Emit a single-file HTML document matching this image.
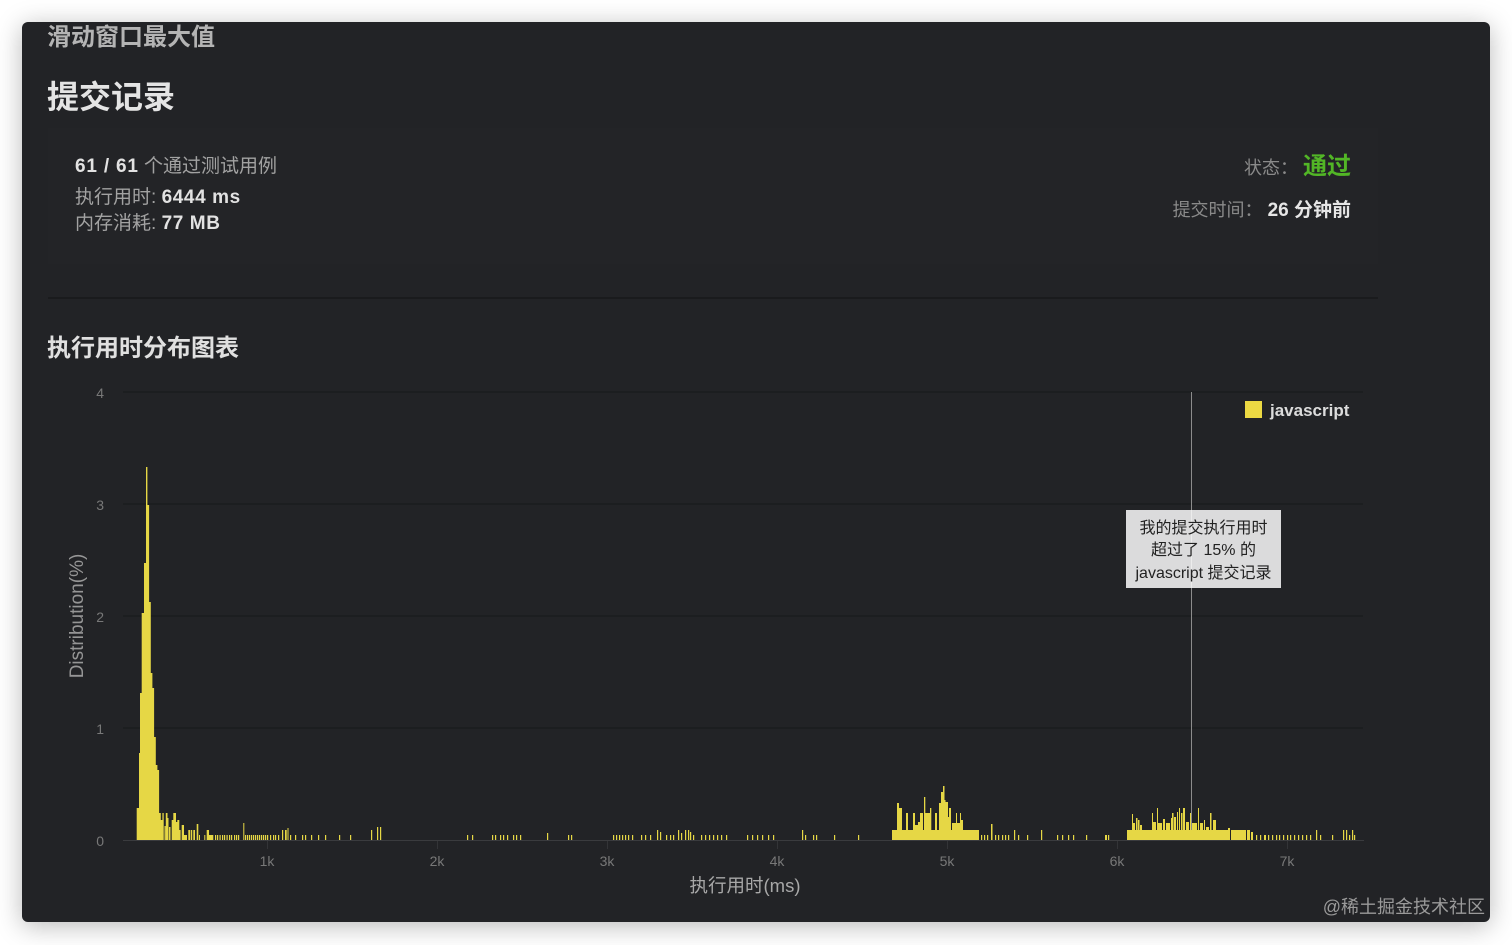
<!DOCTYPE html>
<html>
<head>
<meta charset="utf-8">
<style>
  html,body{margin:0;padding:0;}
  body{width:1512px;height:945px;background:#ffffff;position:relative;overflow:hidden;
       font-family:"Liberation Sans","Noto Sans CJK SC",sans-serif;}
  .card{position:absolute;left:22px;top:22px;width:1468px;height:900px;background:#222326;
        border-radius:6px;box-shadow:0 4px 26px rgba(0,0,0,0.28);}
  .panel{position:absolute;left:48px;top:128px;width:1330px;height:136px;background:#232427;}
  .sep{position:absolute;left:48px;top:297px;width:1330px;height:2px;background:#1a1b1d;}
  .t{position:absolute;white-space:nowrap;}
  .b{font-weight:700;}
</style>
</head>
<body>
<div class="card"></div>
<div class="panel"></div>
<div class="sep"></div>

<div class="t b" style="left:47px;top:24px;font-size:24px;line-height:28px;color:#b4b4b4;">滑动窗口最大值</div>
<div class="t b" style="left:47px;top:79px;font-size:32px;line-height:36px;color:#e4e4e4;">提交记录</div>

<div class="t" style="left:75px;top:156px;font-size:19px;line-height:22px;color:#a2a2a2;"><span class="b" style="color:#e2e2e2;font-size:19px;letter-spacing:0.8px;">61 / 61</span> 个通过测试用例</div>
<div class="t" style="left:75px;top:187px;font-size:19px;line-height:22px;color:#a2a2a2;">执行用时: <span class="b" style="color:#e2e2e2;font-size:19px;letter-spacing:0.6px;">6444 ms</span></div>
<div class="t" style="left:75px;top:213px;font-size:19px;line-height:22px;color:#a2a2a2;">内存消耗: <span class="b" style="color:#e2e2e2;font-size:19px;letter-spacing:0.6px;">77 MB</span></div>

<div class="t" style="right:161px;top:153px;font-size:18px;line-height:28px;color:#8a8a8a;">状态：&nbsp;<span class="b" style="color:#52b626;font-size:24px;">通过</span></div>
<div class="t" style="right:161px;top:198px;font-size:18px;line-height:24px;color:#8a8a8a;">提交时间：&nbsp;<span class="b" style="color:#e6e6e6;font-size:19px;">26 分钟前</span></div>

<div class="t b" style="left:47px;top:335px;font-size:24px;line-height:28px;color:#e0e0e0;">执行用时分布图表</div>

<svg width="1512" height="945" viewBox="0 0 1512 945" style="position:absolute;left:0;top:0;" xmlns="http://www.w3.org/2000/svg">
  <!-- grid -->
  <g stroke="#1a1b1d" stroke-width="1.2">
    <line x1="123" y1="392" x2="1363" y2="392"/>
    <line x1="123" y1="504" x2="1363" y2="504"/>
    <line x1="123" y1="616" x2="1363" y2="616"/>
    <line x1="123" y1="728" x2="1363" y2="728"/>
  </g>
  <line x1="123" y1="840.5" x2="1364" y2="840.5" stroke="#3a3b3e" stroke-width="1"/>
  <g stroke="#333437" stroke-width="1">
    <line x1="267.5" y1="841" x2="267.5" y2="849"/>
    <line x1="437.5" y1="841" x2="437.5" y2="849"/>
    <line x1="607.5" y1="841" x2="607.5" y2="849"/>
    <line x1="777.5" y1="841" x2="777.5" y2="849"/>
    <line x1="947.5" y1="841" x2="947.5" y2="849"/>
    <line x1="1117.5" y1="841" x2="1117.5" y2="849"/>
    <line x1="1287.5" y1="841" x2="1287.5" y2="849"/>
  </g>

  <!-- y ticks -->
  <g font-family="Liberation Sans, sans-serif" font-size="14" fill="#787878" text-anchor="end">
    <text x="104" y="398">4</text>
    <text x="104" y="510">3</text>
    <text x="104" y="622">2</text>
    <text x="104" y="734">1</text>
    <text x="104" y="846">0</text>
  </g>
  <!-- x ticks -->
  <g font-family="Liberation Sans, sans-serif" font-size="14" fill="#787878" text-anchor="middle">
    <text x="267" y="866">1k</text>
    <text x="437" y="866">2k</text>
    <text x="607" y="866">3k</text>
    <text x="777" y="866">4k</text>
    <text x="947" y="866">5k</text>
    <text x="1117" y="866">6k</text>
    <text x="1287" y="866">7k</text>
  </g>
  <text x="745" y="892" font-family="Liberation Sans, Noto Sans CJK SC, sans-serif" font-size="18.5" fill="#a8a8a8" text-anchor="middle">执行用时(ms)</text>
  <text transform="translate(83,616) rotate(-90)" font-family="Liberation Sans, sans-serif" font-size="19" fill="#969696" text-anchor="middle">Distribution(%)</text>

  <!-- crosshair -->
  <line x1="1191.5" y1="392" x2="1191.5" y2="840" stroke="#8c8c8c" stroke-width="1"/>

  <!-- bars -->
  <path fill="#e6d745" d="
M136.7 840v-32h2.3v32z M139 840v-87h1.1v87z M140 840v-147h1.8v147z M141.7 840v-227h2.4v227z
M144 840v-277h2.1v277z M146 840v-373h1.4v373z M147.3 840v-335h1.8v335z M149 840v-238h1.8v238z
M150.7 840v-167h1.7v167z M152.3 840v-152h1.8v152z M154 840v-103h1.8v103z M155.7 840v-75h1.7v75z
M157.3 840v-70h1.8v70z M159 840v-27h1.8v27z
M160.7 840v-20h1.7v20z M162.4 840v-27h1.3v27z M164.5 840v-14h1.2v14z M165.8 840v-27h1.7v27z
M167.5 840v-22h1v22z M169 840v-13h1.5v13z M171.7 840v-20h1.6v20z M173.3 840v-27h2.7v27z
M176 840v-18h1.3v18z M177.3 840v-20h2v20z M179.3 840v-10h1.3v10z M181.7 840v-15h2.3v15z
M184 840v-5h3v5z M188.3 840v-10h1.7v10z M190.7 840v-10h1.5v10z M193.3 840v-10h1.7v10z
M196.7 840v-16h1.6v16z M199 840v-5h1v5z M204.3 840v-5h1v5z M206.7 840v-10h2.3v10z M209 840v-5h4.3v5z
M215 840v-5h1.2v5z M217 840v-5h1.2v5z M219.5 840v-5h1.2v5z M222 840v-5h1.2v5z M224 840v-5h1.2v5z
M226.5 840v-5h1.2v5z M229 840v-5h1.2v5z M231 840v-5h1.2v5z M234 840v-5h1.2v5z M236 840v-5h1.2v5z
M238 840v-5h1.2v5z M243.3 840v-17h1v17z M245 840v-5h1.2v5z M247 840v-5h1.2v5z M249 840v-5h1.2v5z
M251 840v-5h1.2v5z M253 840v-5h1.2v5z M255 840v-5h1.2v5z M257 840v-5h1.2v5z M259 840v-5h1.2v5z
M261 840v-5h1.2v5z M263 840v-5h1.2v5z M265 840v-5h1.2v5z M267 840v-5h1.2v5z M270 840v-5h1.2v5z
M273 840v-5h1.2v5z M275 840v-5h1.2v5z M278 840v-5h1.2v5z M282 840v-10h1.2v10z M285 840v-10h1.7v10z
M287.5 840v-12h1v12z M290 840v-5h1.2v5z M295 840v-5h1.2v5z M302 840v-5h1.2v5z M305 840v-5h1.2v5z
M311 840v-5h1.2v5z M318 840v-5h1.2v5z M325 840v-5h1.2v5z M339 840v-5h1.2v5z M350 840v-5h1.2v5z
M371 840v-10h1.2v10z M377 840v-13h1.2v13z M380 840v-13h1.2v13z
M467 840v-5h1.2v5z M472 840v-5h1.2v5z M492 840v-5h1.2v5z M495 840v-5h1.2v5z M500 840v-5h1.2v5z
M503 840v-5h1.2v5z M507 840v-5h1.2v5z M513 840v-5h1.2v5z M516 840v-5h1.2v5z M520 840v-5h1.2v5z
M547 840v-7h1.2v7z M568 840v-5h1.2v5z M571 840v-5h1.2v5z
M613 840v-5h1.2v5z M616 840v-5h1.2v5z M619 840v-5h1.2v5z M622 840v-5h1.2v5z M625 840v-5h1.2v5z
M628 840v-5h1.2v5z M632 840v-5h1.2v5z M641 840v-5h1.2v5z M645 840v-5h1.2v5z M650 840v-5h1.2v5z
M657 840v-10h1.2v10z M660 840v-8h1.2v8z M666 840v-5h1.2v5z M670 840v-5h1.2v5z M673 840v-5h1.2v5z
M678 840v-10h1.2v10z M681 840v-7h1.2v7z M685 840v-10h1.2v10z M688 840v-10h1.2v10z M690 840v-8h1.2v8z
M693 840v-5h1.2v5z M701 840v-5h1.2v5z M705 840v-5h1.2v5z M709 840v-5h1.2v5z M713 840v-5h1.2v5z
M717 840v-5h1.2v5z M721 840v-5h1.2v5z M726 840v-5h1.2v5z M747 840v-5h1.2v5z M752 840v-5h1.2v5z
M757 840v-5h1.2v5z M762 840v-5h1.2v5z M768 840v-5h1.2v5z M773 840v-5h1.2v5z M802 840v-10h1.2v10z
M805 840v-5h1.2v5z M813 840v-5h1.2v5z M816 840v-5h1.2v5z M834 840v-5h1.2v5z M858 840v-5h1.2v5z
M892 840v-10h87v10z
M897 840v-37h2v37z M899 840v-32h3v32z M906 840v-27h2v27z M913 840v-27h2v27z M915 840v-15h3v15z
M918 840v-18h2v18z M920 840v-27h3v27z M924 840v-43h1.3v43z M925.3 840v-27h4.7v27z M930 840v-32h1.3v32z
M935 840v-27h2v27z M939 840v-37h2v37z M941 840v-48h2v48z M943 840v-54h1.5v54z M944.5 840v-40h1v40z
M945 840v-38h3v38z M948 840v-23h1v23z M949 840v-32h2v32z M952 840v-17h4v17z M956 840v-27h1v27z
M957 840v-17h3v17z M960 840v-27h1v27z M961 840v-20h2v20z
M981 840v-5h1.2v5z M984 840v-5h1.2v5z M987 840v-5h1.2v5z M991 840v-16h1.5v16z M995 840v-5h1.2v5z
M998 840v-5h1.2v5z M1002 840v-5h1.2v5z M1005 840v-5h1.2v5z M1008 840v-5h1.2v5z M1014 840v-10h1.2v10z
M1018 840v-5h1.2v5z M1027 840v-5h1.2v5z M1041 840v-10h1.2v10z M1057 840v-5h1.2v5z M1062 840v-5h1.2v5z
M1068 840v-5h1.2v5z M1073 840v-5h1.2v5z M1086 840v-5h1.2v5z M1105 840v-5h2v5z M1108 840v-5h1.2v5z
M1127 840v-10h101v10z
M1132 840v-26h1v26z M1133 840v-17h2v17z M1136 840v-22h1.5v22z M1138 840v-20h1.5v20z M1140 840v-15h2v15z
M1152 840v-27h1v27z M1153 840v-18h3v18z M1157 840v-32h1v32z M1158 840v-17h4v17z M1163 840v-21h2v21z
M1166 840v-17h4v17z M1171 840v-22h1v22z M1172 840v-27h1.5v27z M1174 840v-23h2v23z M1177 840v-28h1v28z
M1179 840v-32h1v32z M1181 840v-27h1.5v27z M1183 840v-32h2v32z M1186 840v-18h3v18z M1190 840v-27h1v27z
M1192 840v-17h5v17z M1198 840v-32h1v32z M1200 840v-17h3v17z M1204 840v-20h1v20z M1206 840v-13h3v13z
M1210 840v-27h1.5v27z M1213 840v-20h3v20z
M1228 840v-12h2v12z M1231 840v-10h10v10z M1241 840v-10h5v10z M1247 840v-10h3v10z M1251 840v-8h2v8z
M1256 840v-5h1.2v5z M1260 840v-5h1.2v5z M1264 840v-5h2v5z M1268 840v-5h1.2v5z M1272 840v-5h1.2v5z
M1276 840v-5h1.2v5z M1279 840v-5h1.2v5z M1283 840v-5h1.2v5z M1287 840v-5h1.2v5z M1290 840v-5h1.2v5z
M1294 840v-5h1.2v5z M1298 840v-5h1.2v5z M1302 840v-5h1.2v5z M1306 840v-5h1.2v5z M1310 840v-5h1.2v5z
M1316 840v-10h1.2v10z M1320 840v-5h1.2v5z M1332 840v-5h1.2v5z M1343 840v-10h1.2v10z M1346 840v-10h1.2v10z
M1349 840v-5h1.2v5z M1352 840v-10h1.2v10z M1354 840v-5h1.2v5z
"/>

  <!-- legend -->
  <rect x="1245" y="401" width="17" height="17" fill="#ecd943"/>
  <text x="1270" y="416" font-family="Liberation Sans, sans-serif" font-size="17" font-weight="700" fill="#dcdcdc">javascript</text>

  <!-- tooltip -->
  <rect x="1126" y="510" width="155" height="78" fill="rgba(255,255,255,0.84)"/>
  <g font-family="Liberation Sans, Noto Sans CJK SC, sans-serif" font-size="16" fill="#222222" text-anchor="middle">
    <text x="1203.5" y="533">我的提交执行用时</text>
    <text x="1203.5" y="555">超过了 15% 的</text>
    <text x="1203.5" y="578">javascript 提交记录</text>
  </g>

  <!-- watermark -->
  <text x="1485" y="913" font-family="Liberation Sans, Noto Sans CJK SC, sans-serif" font-size="18" fill="#9a9a9a" text-anchor="end">@稀土掘金技术社区</text>
</svg>
</body>
</html>
